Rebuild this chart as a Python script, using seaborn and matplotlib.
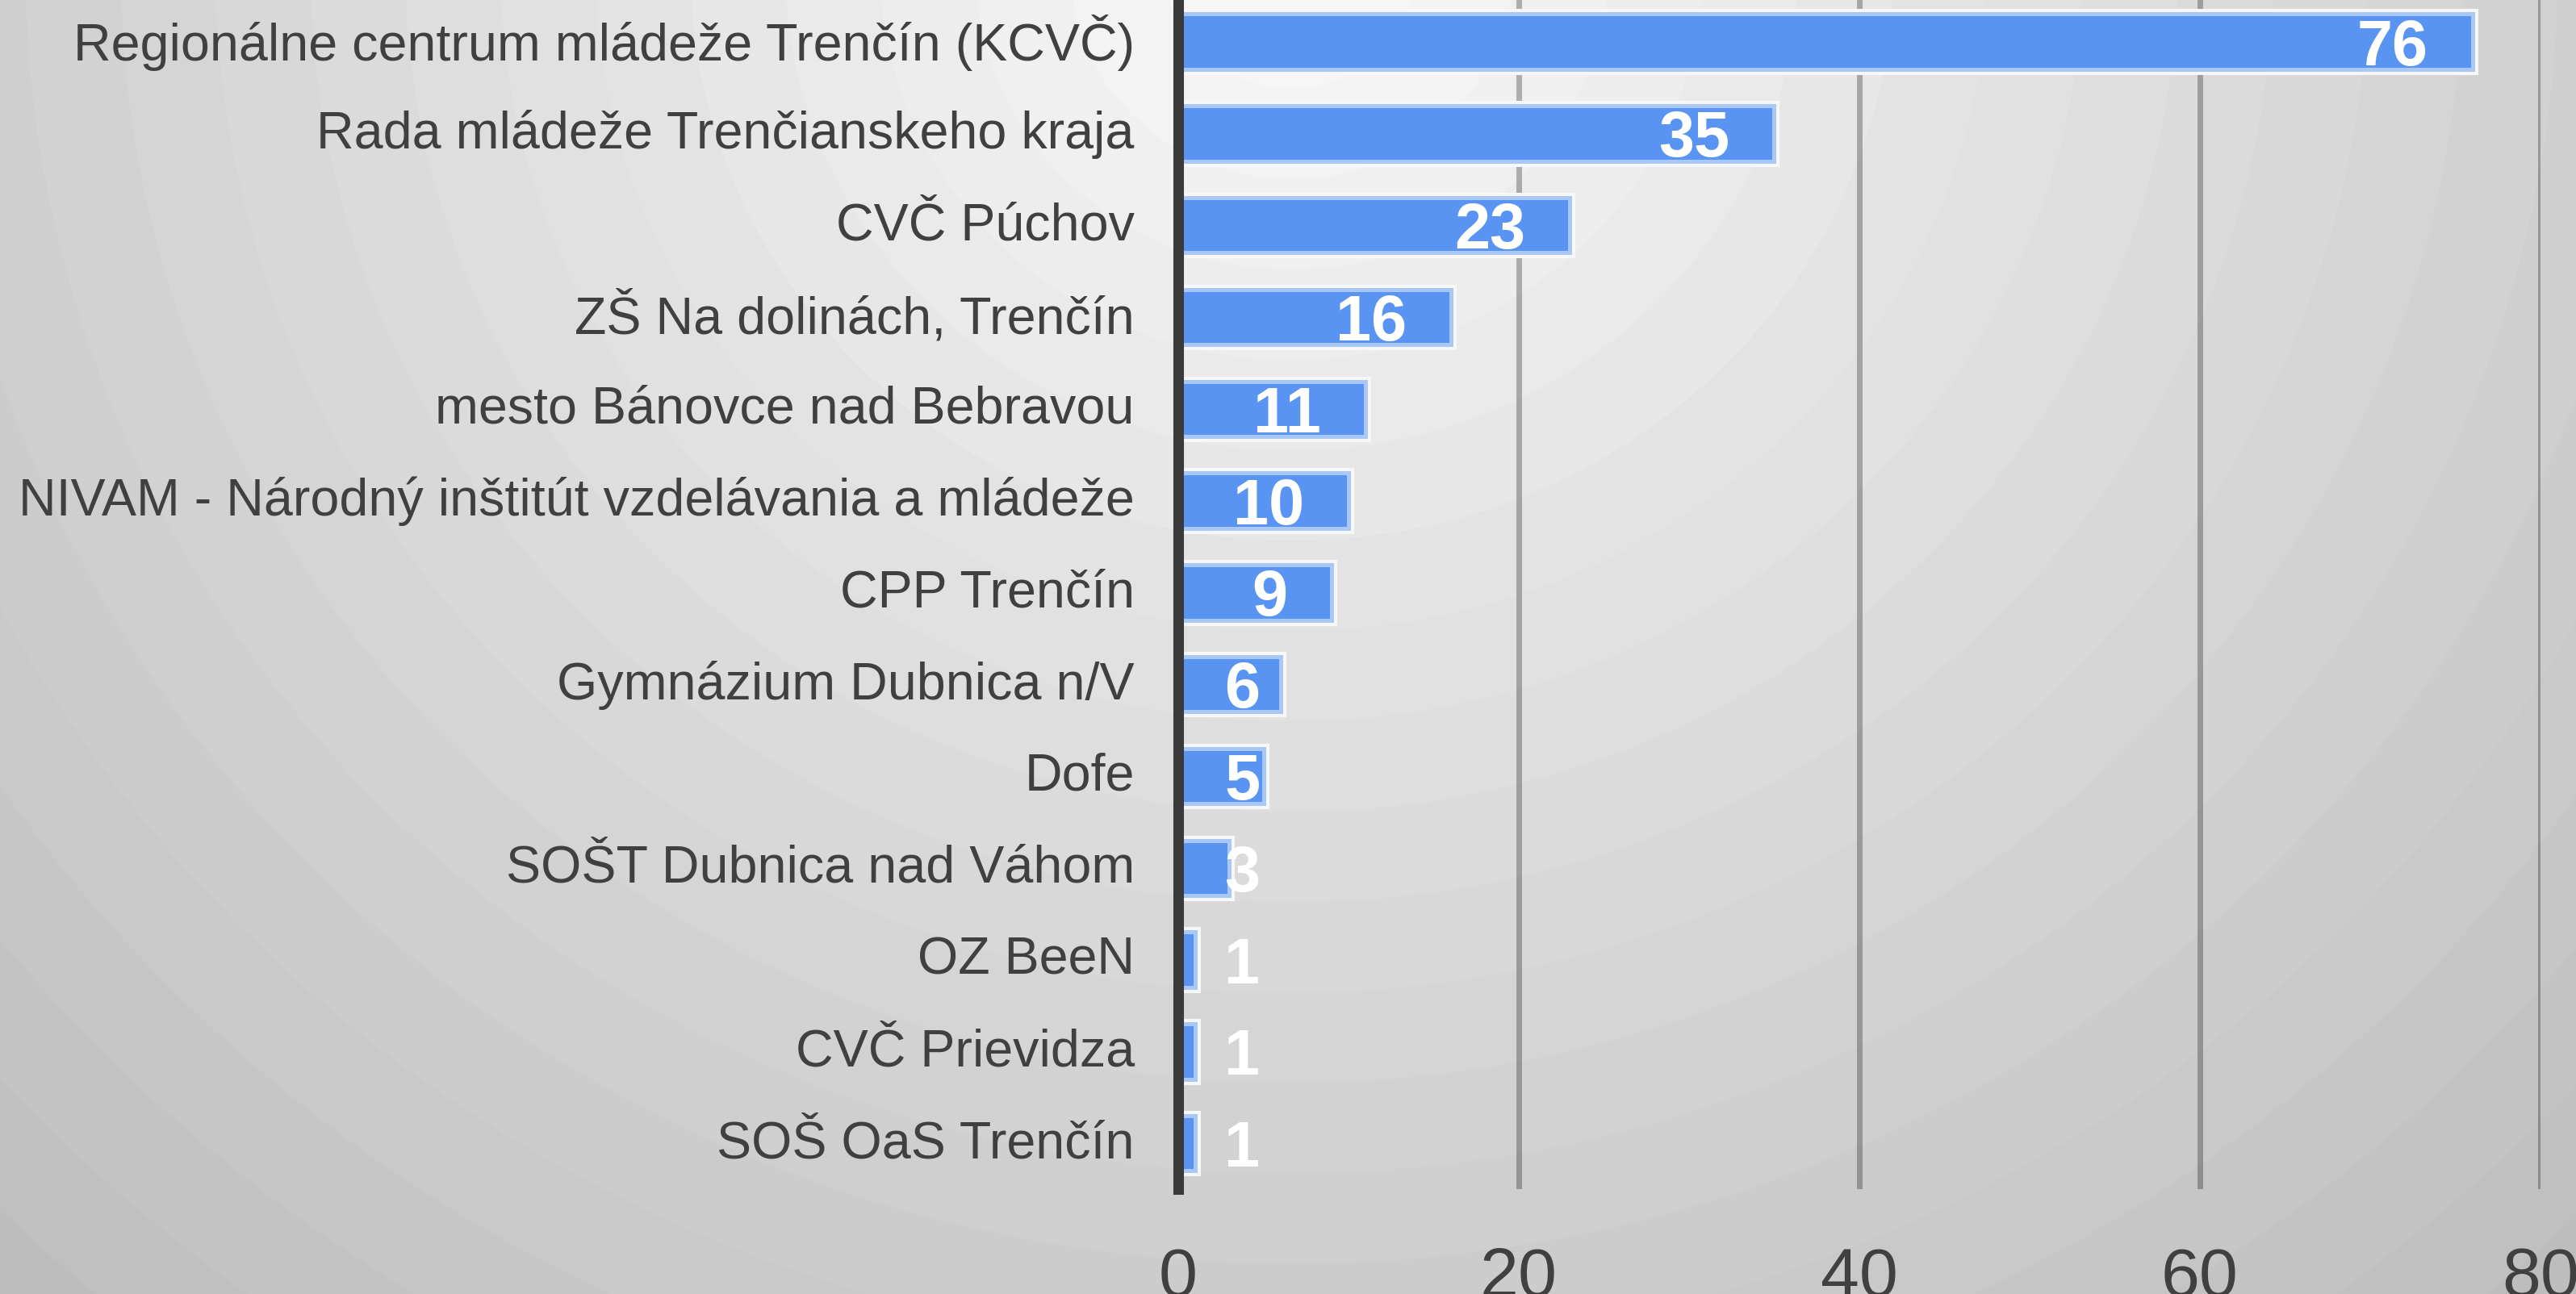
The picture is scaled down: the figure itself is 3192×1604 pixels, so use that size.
import numpy as np
import pandas as pd
import matplotlib
matplotlib.use("Agg")
import matplotlib.pyplot as plt
import matplotlib.patheffects as pe
import matplotlib.transforms as mtransforms
import seaborn as sns

# data
organizacie = [
    "Regionálne centrum mládeže Trenčín (KCVČ)",
    "Rada mládeže Trenčianskeho kraja",
    "CVČ Púchov",
    "ZŠ Na dolinách, Trenčín",
    "mesto Bánovce nad Bebravou",
    "NIVAM - Národný inštitút vzdelávania a mládeže",
    "CPP Trenčín",
    "Gymnázium Dubnica n/V",
    "Dofe",
    "SOŠT Dubnica nad Váhom",
    "OZ BeeN",
    "CVČ Prievidza",
    "SOŠ OaS Trenčín",
]
pocty = [76, 35, 23, 16, 11, 10, 9, 6, 5, 3, 1, 1, 1]
x_ticks = [0, 20, 40, 60, 80]

BAR_BLUE = "#5994f2"
BAR_EDGE = "#a9c8f6"
TEXT_GRAY = "#404040"


def radial_background(fig):
    """Light radial gradient with visible banding, like the original slide."""
    bg = fig.add_axes([0, 0, 1, 1], zorder=-10)
    h, w = 1604, 3192
    yy, xx = np.mgrid[0:h, 0:w]
    d = np.hypot(xx - 1600, (yy + 40) * 1.05)
    b = 250 - 0.0255 * d
    b = np.floor(b / 3.0) * 3.0
    b = np.clip(b, 185, 250) / 255.0
    bg.imshow(b, cmap="gray", vmin=0, vmax=1, aspect="auto",
              interpolation="nearest", extent=[0, 1, 0, 1])
    bg.set_axis_off()


def main():
    sns.set_theme(style="white")
    plt.rcParams["font.family"] = ["Liberation Sans", "DejaVu Sans"]

    df = pd.DataFrame({"organizacia": organizacie, "pocet": pocty})

    fig = plt.figure(figsize=(31.92, 16.04), dpi=100)
    radial_background(fig)

    ax = fig.add_axes([0.4574, 0.081, 0.5288, 0.9223])
    ax.set_facecolor("none")

    sns.barplot(data=df, x="pocet", y="organizacia", orient="h",
                color=BAR_BLUE, width=0.6, saturation=1, ax=ax, zorder=3)

    for bar in ax.patches:
        bar.set_facecolor(BAR_BLUE)
        bar.set_edgecolor(BAR_EDGE)
        bar.set_linewidth(3.6)
        bar.set_path_effects([pe.Stroke(linewidth=9.4, foreground="#f7f7f7"),
                              pe.Normal()])

    # value labels, right aligned inside the bar end (never too close to 0)
    for i, v in enumerate(pocty):
        ax.text(max(v - 2.6, 4.8), i, str(v), ha="right", va="center_baseline",
                color="white", fontsize=57, fontweight="bold", zorder=5)

    ax.set_xlim(0, 80)
    ax.set_ylim(len(organizacie) - 0.5, -0.5)
    ax.set_xticks(x_ticks)
    ax.set_xlabel("")
    ax.set_ylabel("")

    ax.grid(axis="x", color="black", alpha=0.28, linewidth=5, zorder=0)
    ax.grid(axis="y", visible=False)
    ax.set_axisbelow(True)

    for side in ["top", "right", "bottom"]:
        ax.spines[side].set_visible(False)
    ax.spines["left"].set_color("#3a3a3a")
    ax.spines["left"].set_linewidth(9.4)
    ax.spines["left"].set_zorder(6)

    ax.tick_params(axis="y", length=0, pad=39, labelsize=46.5, labelcolor=TEXT_GRAY)
    ax.tick_params(axis="x", length=0, pad=51, labelsize=62, labelcolor=TEXT_GRAY)

    # category names sit a touch above the bar centre in the original
    lift = mtransforms.ScaledTranslation(0, 4 / 72, fig.dpi_scale_trans)
    for lbl in ax.get_yticklabels():
        lbl.set_transform(lbl.get_transform() + lift)

    fig.savefig("out.png", dpi=100)
    plt.close(fig)


if __name__ == "__main__":
    main()
